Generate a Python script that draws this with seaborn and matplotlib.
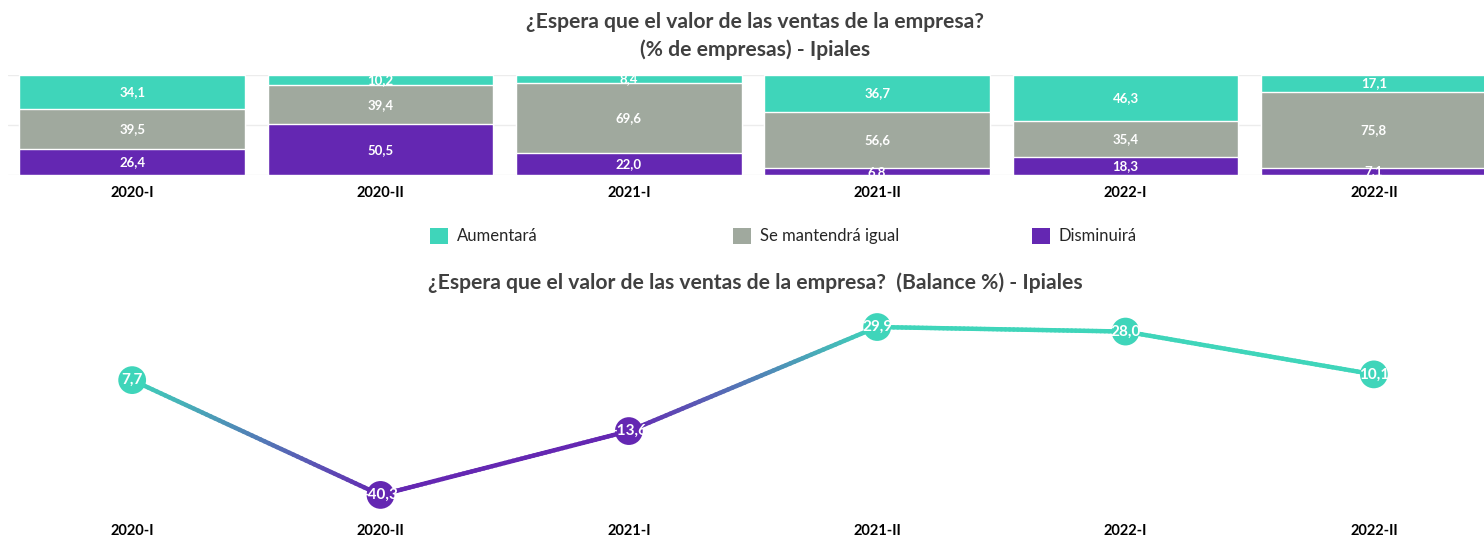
import numpy as np
import pandas as pd
import matplotlib
matplotlib.use("Agg")
import matplotlib.pyplot as plt
import seaborn as sns
from matplotlib.patches import Patch
from matplotlib.collections import LineCollection
from matplotlib.colors import to_rgb

# Datos (Ipiales)
periodos = ["2020-I", "2020-II", "2021-I", "2021-II", "2022-I", "2022-II"]
aumentara = [34.1, 10.2, 8.4, 36.7, 46.3, 17.1]
igual = [39.5, 39.4, 69.6, 56.6, 35.4, 75.8]
disminuira = [26.4, 50.5, 22.0, 6.8, 18.3, 7.1]
balance = [7.7, -40.3, -13.6, 29.9, 28.0, 10.1]

TEAL = "#3fd5ba"
GREY = "#a0a99e"
PURPLE = "#6427b2"
TITLE_C = "#404040"

sns.set_theme(style="white")
plt.rcParams['font.family'] = ['Lato', 'DejaVu Sans']

W, H = 1484, 537
fig = plt.figure(figsize=(W / 100, H / 100), dpi=100)


def box(x0, y0, x1, y1):
    # pixel box (top-left origin) -> figure fraction rect
    return [x0 / W, 1 - y1 / H, (x1 - x0) / W, (y1 - y0) / H]


# ---------- stacked bars ----------
ax1 = fig.add_axes(box(8, 75, 1498, 175))
df = pd.DataFrame({"periodo": periodos,
                   "aum": aumentara, "igu": igual, "dis": disminuira})
df["tot_dis"] = df["dis"]
df["tot_igu"] = df["dis"] + df["igu"]
df["tot_aum"] = df["tot_igu"] + df["aum"]

for col, c in [("tot_aum", TEAL), ("tot_igu", GREY), ("tot_dis", PURPLE)]:
    sns.barplot(data=df, x="periodo", y=col, color=c, saturation=1,
                width=0.91, errorbar=None, ax=ax1, zorder=2)

for i in range(len(periodos)):
    base = 0
    for v in [disminuira[i], igual[i], aumentara[i]]:
        ax1.text(i, base + v / 2, f"{v:.1f}".replace(".", ","), ha="center",
                 va="center", color="white", fontsize=9.5, fontweight="bold", zorder=3)
        base += v

ax1.set_xlim(-0.5, 5.5)
ax1.set_ylim(0, 100)
ax1.set_yticks([0, 50, 100])
ax1.yaxis.grid(True, color="#ececec", lw=1, zorder=0)
ax1.set_yticklabels([])
ax1.tick_params(axis="y", length=0)
ax1.set_xlabel("")
ax1.set_ylabel("")
ax1.set_xticks(range(len(periodos)))
ax1.set_xticklabels(periodos, fontsize=10.5, fontweight="bold", color="black")
ax1.tick_params(axis="x", which="major", length=0, pad=8)
ax1.set_xticks(np.arange(-0.5, 6, 1), minor=True)
ax1.tick_params(axis="x", which="minor", length=7, color="#e6e6e6", width=1)
for s in ax1.spines.values():
    s.set_visible(False)

fig.text(755 / W, 1 - 22 / H, "¿Espera que el valor de las ventas de la empresa?",
         ha="center", va="center", fontsize=15.2, fontweight="bold", color=TITLE_C)
fig.text(755 / W, 1 - 50 / H, "(% de empresas) - Ipiales",
         ha="center", va="center", fontsize=15.2, fontweight="bold", color=TITLE_C)

# legend, one entry per block
for lab, c, xp in [("Aumentará", TEAL, 430), ("Se mantendrá igual", GREY, 733),
                   ("Disminuirá", PURPLE, 1032)]:
    fig.legend([Patch(facecolor=c, edgecolor="none")], [lab], loc="center left",
               bbox_to_anchor=(xp / W, 1 - 236 / H), frameon=False,
               handlelength=1.1, handleheight=1.1, handletextpad=0.5,
               borderaxespad=0, borderpad=0, fontsize=12,
               labelcolor="#262626")

# ---------- balance line ----------
fig.text(755 / W, 1 - 283 / H,
         "¿Espera que el valor de las ventas de la empresa?  (Balance %) - Ipiales",
         ha="center", va="center", fontsize=15.2, fontweight="bold", color=TITLE_C)

ax2 = fig.add_axes(box(8, 300, 1498, 510))
xs = np.arange(len(periodos))
ys = np.array(balance)
pcols = [TEAL if v >= 0 else PURPLE for v in balance]

segs, cols = [], []
n = 60
for i in range(len(xs) - 1):
    c0, c1 = np.array(to_rgb(pcols[i])), np.array(to_rgb(pcols[i + 1]))
    t = np.linspace(0, 1, n + 1)
    px = xs[i] + (xs[i + 1] - xs[i]) * t
    py = ys[i] + (ys[i + 1] - ys[i]) * t
    for k in range(n):
        segs.append([(px[k], py[k]), (px[k + 1], py[k + 1])])
        tm = (t[k] + t[k + 1]) / 2
        cols.append(c0 * (1 - tm) + c1 * tm)
ax2.add_collection(LineCollection(segs, colors=cols, linewidths=3.2,
                                  capstyle="round", zorder=2))

signo = ["pos" if v >= 0 else "neg" for v in balance]
sns.scatterplot(x=xs, y=ys, hue=signo, palette={"pos": TEAL, "neg": PURPLE},
                s=400, edgecolor="none", legend=False, ax=ax2, zorder=3)
for x, v in zip(xs, balance):
    ax2.text(x, v, f"{v:.1f}".replace(".", ","), ha="center", va="center",
             color="white", fontsize=11, fontweight="bold", zorder=4)

ax2.set_xlim(-0.5, 5.5)
ax2.set_ylim(-46.6, 41.2)
ax2.set_yticks([])
ax2.set_xticks(xs)
ax2.set_xticklabels(periodos, fontsize=10.5, fontweight="bold", color="black")
ax2.tick_params(axis="x", length=0, pad=10)
for s in ax2.spines.values():
    s.set_visible(False)

fig.savefig("out.png", dpi=100)
